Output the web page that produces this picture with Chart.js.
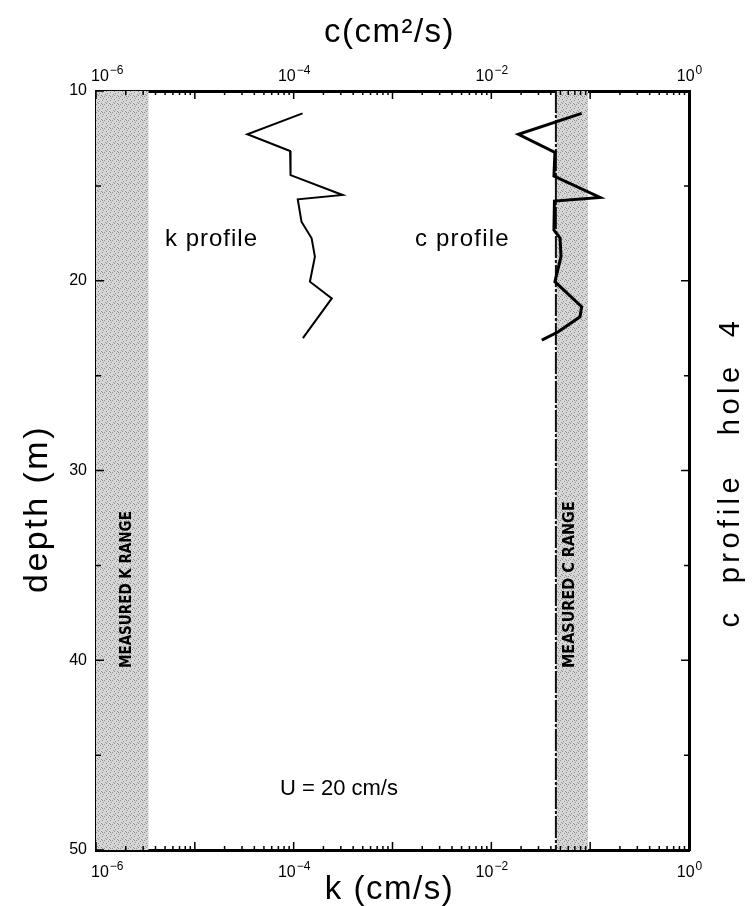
<!DOCTYPE html>
<html><head><meta charset="utf-8">
<script src="https://cdn.jsdelivr.net/npm/chart.js@4.4.1/dist/chart.umd.min.js"></script>
<style>html,body{margin:0;padding:0;background:#fff;}#wrap{width:752px;height:906px;position:relative;}</style>
</head><body><div id="wrap"><canvas id="c"></canvas></div>
<script>
// depth (m) and values
const kDepth  = [11.18, 12.28, 13.16, 14.43, 15.48, 15.71, 16.89, 17.76, 18.73, 20.05, 20.93, 23.02];
const kValues = [1.23e-4, 3.40e-5, 9.2e-5, 9.3e-5, 3.13e-4, 1.10e-4, 1.20e-4, 1.52e-4, 1.64e-4, 1.46e-4, 2.43e-4, 1.24e-4];
const cDepth  = [11.18, 12.28, 13.23, 14.48, 15.61, 15.80, 17.33, 17.75, 18.73, 20.05, 21.37, 21.90, 22.69, 23.13];
const cValues = [0.082, 0.0188, 0.044, 0.043, 0.126, 0.0435, 0.043, 0.0496, 0.0507, 0.044, 0.082, 0.0789, 0.0476, 0.0324];
const kRange = [1e-6, 3.4e-6];
const cRange = [0.045, 0.095];
const xTickExponents = [-6, -4, -2, 0];
const depthRange = [10, 50];
const depthStep = 10;

const FONT = '"Liberation Sans", Arial, Helvetica, sans-serif';
const NARROW = '"Liberation Sans Narrow", "DejaVu Sans Condensed", "Liberation Sans", sans-serif';

function stipple(ctx){
  const p = document.createElement('canvas'); p.width = 8; p.height = 8;
  const g = p.getContext('2d');
  g.fillStyle = '#d6d6d6'; g.fillRect(0,0,8,8);
  g.fillStyle = '#909090';
  [[0,0],[4,1],[2,3],[6,4],[1,6],[5,7],[3,5],[7,2],[6,0],[2,7]].forEach(([a,b]) => g.fillRect(a,b,1,1));
  return ctx.createPattern(p, 'repeat');
}

function txt(ctx, s, x, y, font, opts = {}){
  ctx.save();
  ctx.font = font;
  ctx.fillStyle = opts.color || '#000';
  ctx.textAlign = opts.align || 'left';
  ctx.textBaseline = opts.baseline || 'alphabetic';
  if (opts.ls) ctx.letterSpacing = opts.ls + 'px';
  ctx.translate(x, y);
  if (opts.rot) ctx.rotate(opts.rot);
  ctx.fillText(s, 0, 0);
  ctx.restore();
}

function powLabel(ctx, e, cx, baseY){
  ctx.save();
  const big = '16px ' + FONT, small = '12px ' + FONT;
  const sup = e === 0 ? '0' : '\u2212' + Math.abs(e);
  ctx.font = big; const w1 = ctx.measureText('10').width;
  ctx.font = small; const w2 = ctx.measureText(sup).width;
  let x0 = cx - (w1 + w2) / 2;
  if (e === xTickExponents[0]) x0 = cx - 5;
  ctx.fillStyle = '#000'; ctx.textBaseline = 'alphabetic'; ctx.textAlign = 'left';
  ctx.font = big; ctx.fillText('10', x0, baseY);
  ctx.font = small; ctx.fillText(sup, x0 + w1 + 1, baseY - 7);
  ctx.restore();
}

const deco = {
  id: 'deco',
  beforeDatasetsDraw(chart){
    const {ctx, chartArea: a, scales: {x, y}} = chart;
    ctx.save();
    ctx.fillStyle = stipple(ctx);
    const k0 = x.getPixelForValue(kRange[0]), k1 = x.getPixelForValue(kRange[1]);
    ctx.fillRect(k0, a.top, k1 - k0, a.bottom - a.top);
    const c0 = x.getPixelForValue(cRange[0]), c1 = x.getPixelForValue(cRange[1]);
    ctx.fillRect(c0, a.top, c1 - c0, a.bottom - a.top);
    ctx.strokeStyle = '#111'; ctx.lineWidth = 2; ctx.setLineDash([22, 2, 3, 2]);
    ctx.beginPath(); ctx.moveTo(c0, a.top); ctx.lineTo(c0, a.bottom); ctx.stroke();
    ctx.setLineDash([]);
    // band labels
    txt(ctx, 'MEASURED K RANGE', (k0 + k1) / 2 + 5, 668, 'bold 15px ' + NARROW, {rot: -Math.PI/2, baseline: 'middle'});
    txt(ctx, 'MEASURED C RANGE', (c0 + c1) / 2 - 2, 668, 'bold 16px ' + NARROW, {rot: -Math.PI/2, baseline: 'middle'});
    ctx.restore();
  },
  afterDraw(chart){
    const {ctx, chartArea: a, scales: {x, y}} = chart;
    ctx.save();
    ctx.strokeStyle = '#000'; ctx.lineWidth = 1.5;
    // inward log ticks on bottom and top
    for (let e = xTickExponents[0]; e <= xTickExponents[xTickExponents.length - 1]; e++){
      for (let m = 1; m <= 9; m++){
        const v = m * Math.pow(10, e);
        if (v > 1.0000001) break;
        const px = x.getPixelForValue(v);
        const len = m === 1 ? 8 : 4;
        ctx.beginPath();
        ctx.moveTo(px, a.bottom); ctx.lineTo(px, a.bottom - len);
        ctx.moveTo(px, a.top); ctx.lineTo(px, a.top + len);
        ctx.stroke();
      }
    }
    // inward depth ticks on left and right
    for (let d = depthRange[0]; d <= depthRange[1]; d += depthStep / 2){
      const py = y.getPixelForValue(d);
      const len = (d % depthStep === 0) ? 8 : 5;
      ctx.beginPath();
      ctx.moveTo(a.left, py); ctx.lineTo(a.left + len, py);
      ctx.moveTo(a.right, py); ctx.lineTo(a.right - len, py);
      ctx.stroke();
    }
    // x tick labels (top and bottom)
    xTickExponents.forEach(e => {
      const px = x.getPixelForValue(Math.pow(10, e));
      powLabel(ctx, e, px, 81);
      powLabel(ctx, e, px, 877);
    });
    // axis titles
    const cx = (a.left + a.right) / 2 - 3;
    txt(ctx, 'c(cm\u00b2/s)', cx, 42, '33px ' + FONT, {align: 'center', ls: 1.5});
    txt(ctx, 'k (cm/s)', cx, 899, '33px ' + FONT, {align: 'center', ls: 1.5});
    txt(ctx, 'depth (m)', 47, 509, '34px ' + FONT, {align: 'center', ls: 2.5, rot: -Math.PI/2});
    txt(ctx, 'c  profile   hole  4', 739, 472, '29px ' + FONT, {align: 'center', ls: 4.5, rot: -Math.PI/2});
    // annotations
    txt(ctx, 'k profile', 165, 246, '24px ' + FONT, {ls: 1});
    txt(ctx, 'c profile', 415, 246, '24px ' + FONT, {ls: 1.2});
    txt(ctx, 'U = 20 cm/s', 280, 795, '22px ' + FONT, {ls: 0});
    ctx.restore();
  }
};

const axisBorder = {display: true, color: '#000', width: 3};
const noGrid = {display: false, drawTicks: false};

new Chart(document.getElementById('c'), {
  type: 'scatter',
  data: {
    datasets: [
      {label: 'k profile', data: kDepth.map((d, i) => ({x: kValues[i], y: d})), showLine: true,
       borderColor: '#000', borderWidth: 2, pointRadius: 0, xAxisID: 'x', yAxisID: 'y'},
      {label: 'c profile', data: cDepth.map((d, i) => ({x: cValues[i], y: d})), showLine: true,
       borderColor: '#000', borderWidth: 3, pointRadius: 0, xAxisID: 'x2', yAxisID: 'y'}
    ]
  },
  options: {
    responsive: true, maintainAspectRatio: false, animation: false,
    layout: {padding: 0},
    plugins: {legend: {display: false}, tooltip: {enabled: false}},
    scales: {
      x:  {type: 'logarithmic', position: 'bottom', min: 1e-6, max: 1, ticks: {display: false}, grid: noGrid, border: axisBorder, afterFit(s){ s.height = 56; }},
      x2: {type: 'logarithmic', position: 'top', min: 1e-6, max: 1, ticks: {display: false}, grid: noGrid, border: axisBorder, afterFit(s){ s.height = 91; }},
      y:  {type: 'linear', position: 'left', reverse: true, min: depthRange[0], max: depthRange[1],
           ticks: {stepSize: depthStep, color: '#000', padding: 9, font: {size: 16, family: FONT}},
           grid: noGrid, border: axisBorder, afterFit(s){ s.width = 96; }},
      y2: {type: 'linear', position: 'right', reverse: true, min: depthRange[0], max: depthRange[1],
           ticks: {display: false}, grid: noGrid, border: axisBorder, afterFit(s){ s.width = 63; }}
    }
  },
  plugins: [deco]
});
</script>
</body></html>
